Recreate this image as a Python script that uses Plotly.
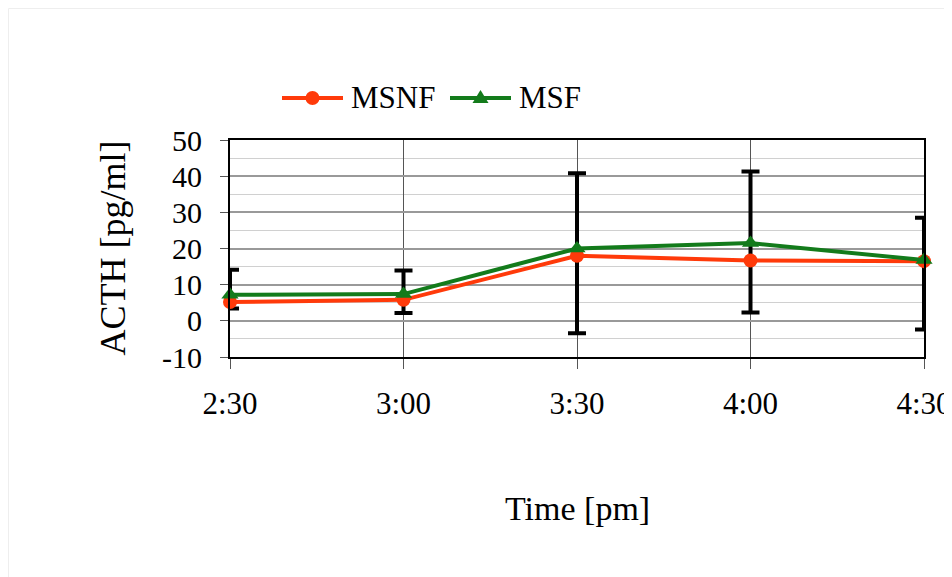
import plotly.graph_objects as go

times = ["2:30", "3:00", "3:30", "4:00", "4:30"]
msnf = [5.2, 5.8, 18.0, 16.7, 16.5]
msf = [7.2, 7.4, 20.0, 21.5, 16.8]
err_high = [14.1, 13.9, 40.8, 41.3, 28.5]
err_low = [3.4, 2.2, -3.4, 2.3, -2.4]
y_ticks = [-10, 0, 10, 20, 30, 40, 50]
y_tick_labels = ["-10", "0", "10", "20", "30", "40", "50"]

RED = "#ff3a0a"
GREEN = "#137b1b"
FONT = "Liberation Serif"

# page has an 8px body margin
OFF = 8
W, H = 952, 569
L, T = 222, 132
R = W - 916
B = H - 349
pw = W - L - R
ph = H - T - B


def px(xpage):
    return (xpage - OFF - L) / pw


def py(ypage):
    return (T + ph - (ypage - OFF)) / ph


fig = go.Figure()

fig.add_trace(go.Scatter(
    x=times, y=msf, mode="markers",
    marker=dict(size=1, opacity=0),
    error_y=dict(type="data", symmetric=False,
                 array=[h - m for h, m in zip(err_high, msf)],
                 arrayminus=[m - l for m, l in zip(msf, err_low)],
                 color="black", thickness=4, width=9),
    showlegend=False, hoverinfo="skip", cliponaxis=False,
))
fig.add_trace(go.Scatter(
    x=times, y=msnf, mode="lines+markers", name="MSNF",
    line=dict(color=RED, width=4),
    marker=dict(symbol="circle", size=14, color=RED),
    cliponaxis=False, showlegend=False,
))
fig.add_trace(go.Scatter(
    x=times, y=msf, mode="lines+markers", name="MSF",
    line=dict(color=GREEN, width=4),
    marker=dict(symbol="triangle-up", size=15, color=GREEN),
    cliponaxis=False, showlegend=False,
))

# legend drawn by hand (longer symbol lines than plotly's built-in legend)
leg_y = py(98)
shapes = [
    dict(type="rect", xref="paper", yref="paper",
         x0=-L / pw + 0.5 / pw, x1=2, y0=-2, y1=(T + ph - 0.5) / ph,
         line=dict(color="#eeeeee", width=1), layer="below"),
    dict(type="line", xref="paper", yref="paper", x0=px(282), x1=px(343),
         y0=leg_y, y1=leg_y, line=dict(color=RED, width=4)),
    dict(type="circle", xref="paper", yref="paper", xsizemode="pixel", ysizemode="pixel",
         xanchor=px(312.5), yanchor=leg_y, x0=-7, x1=7, y0=-7, y1=7,
         fillcolor=RED, line=dict(color=RED, width=0)),
    dict(type="line", xref="paper", yref="paper", x0=px(450), x1=px(511),
         y0=leg_y, y1=leg_y, line=dict(color=GREEN, width=4)),
    dict(type="path", xref="paper", yref="paper", xsizemode="pixel", ysizemode="pixel",
         xanchor=px(480.5), yanchor=leg_y, path="M-8,-5 L8,-5 L0,8 Z",
         fillcolor=GREEN, line=dict(color=GREEN, width=0)),
]

annotations = [
    dict(text="MSNF", xref="paper", yref="paper", x=px(349), y=leg_y,
         xanchor="left", yanchor="middle", showarrow=False,
         font=dict(family=FONT, size=31, color="black")),
    dict(text="MSF", xref="paper", yref="paper", x=px(517), y=leg_y,
         xanchor="left", yanchor="middle", showarrow=False,
         font=dict(family=FONT, size=31, color="black")),
    dict(text="ACTH [pg/ml]", xref="paper", yref="paper", x=0, y=0.5,
         xanchor="center", yanchor="middle", xshift=(112 - OFF) - L, textangle=-90,
         showarrow=False, font=dict(family=FONT, size=36, color="black")),
    dict(text="Time [pm]", xref="paper", yref="paper", x=0.5, y=0,
         xanchor="center", yanchor="middle", yshift=-((508 - OFF) - (T + ph)),
         showarrow=False, font=dict(family=FONT, size=34, color="black")),
]

fig.update_layout(
    width=W, height=H,
    margin=dict(l=L, r=R, t=T, b=B, pad=0, autoexpand=False),
    paper_bgcolor="white", plot_bgcolor="white",
    font=dict(family=FONT, size=30, color="black"),
    showlegend=False,
    xaxis=dict(
        type="category", range=[0, len(times) - 1], automargin=False,
        showline=True, linecolor="black", linewidth=2, mirror=True,
        ticks="outside", ticklen=10, tickcolor="#555", tickwidth=1,
        showgrid=True, gridcolor="#555", gridwidth=1,
        tickfont=dict(family=FONT, size=31, color="black"),
        ticklabelstandoff=8, zeroline=False,
    ),
    yaxis=dict(
        range=[-10, 50], tickvals=y_ticks, ticktext=y_tick_labels, automargin=False,
        showline=True, linecolor="black", linewidth=2, mirror=True,
        ticks="outside", ticklen=8, tickcolor="#555", tickwidth=1,
        showgrid=True, gridcolor="#999", gridwidth=1.5,
        minor=dict(dtick=5, showgrid=True, gridcolor="#d0d0d0", gridwidth=1, ticks=""),
        tickfont=dict(family=FONT, size=30, color="black"),
        ticklabelstandoff=12, zeroline=False,
    ),
    annotations=annotations,
    shapes=shapes,
)

fig.write_html("out.html")
